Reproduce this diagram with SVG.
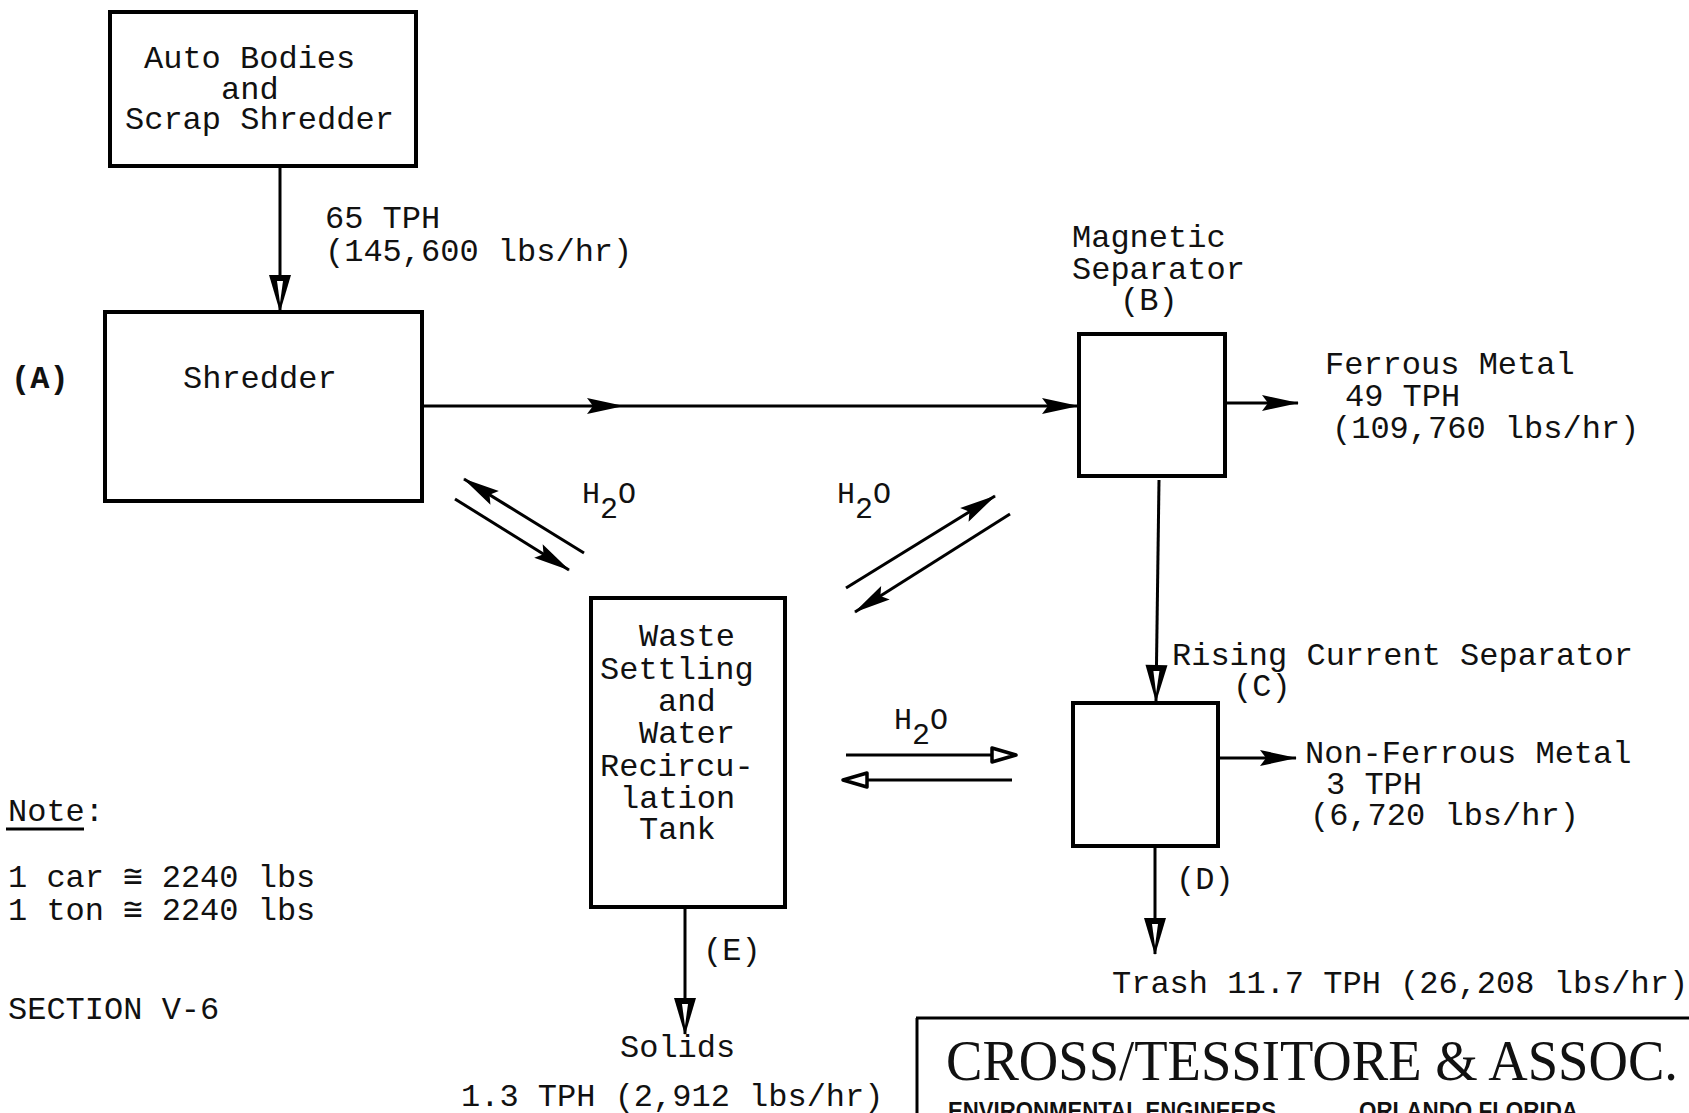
<svg xmlns="http://www.w3.org/2000/svg" width="1689" height="1113" viewBox="0 0 1689 1113">
<style>
  .box { fill: #fff; stroke: #000; stroke-width: 4; }
  .ln { fill: none; stroke: #000; stroke-width: 3; }
  .t { font-family: "Liberation Mono", "DejaVu Sans Mono", monospace; font-size: 32px; fill: #111; }
  .h { font-family: "Liberation Mono", "DejaVu Sans Mono", monospace; font-size: 30px; fill: #111; }
  .title { font-family: "Liberation Serif", "DejaVu Serif", serif; font-size: 57px; fill: #111; }
  .sub { font-family: "Liberation Sans Narrow", "Liberation Sans", "DejaVu Sans", sans-serif; font-size: 24px; font-weight: bold; fill: #111; }
</style>
<defs>
  <marker id="dart" markerUnits="userSpaceOnUse" markerWidth="44" markerHeight="24" viewBox="-40 -12 44 24" refX="0" refY="0" orient="auto">
    <path d="M1,0 L-36,-8 L-30,0 L-36,8 Z" fill="#000"/>
  </marker>
  <marker id="tri" markerUnits="userSpaceOnUse" markerWidth="44" markerHeight="28" viewBox="-40 -14 44 28" refX="0" refY="0" orient="auto">
    <path d="M1,0 L-36,-11 L-36,11 Z" fill="#000"/>
    <path d="M-8,0 L-30,-3 L-30,3 Z" fill="#fff"/>
  </marker>
  <marker id="open" markerUnits="userSpaceOnUse" markerWidth="34" markerHeight="22" viewBox="-30 -11 34 22" refX="0" refY="0" orient="auto">
    <path d="M0,0 L-24,-7 L-24,7 Z" fill="#fff" stroke="#000" stroke-width="3.5" stroke-linejoin="round"/>
  </marker>
</defs>
<rect width="1689" height="1113" fill="#fff"/>

<g id="connectors">
  <line class="ln" x1="280" y1="167" x2="280" y2="311" marker-end="url(#tri)"/>
  <path class="ln" d="M422,406 L623,406 L1078,406" marker-mid="url(#dart)" marker-end="url(#dart)"/>
  <line class="ln" x1="1225" y1="403" x2="1298" y2="403" marker-end="url(#dart)"/>
  <line class="ln" x1="1159" y1="480" x2="1156" y2="701" marker-end="url(#tri)"/>
  <line class="ln" x1="1218" y1="758" x2="1296" y2="758" marker-end="url(#dart)"/>
  <line class="ln" x1="1155" y1="846" x2="1155" y2="954" marker-end="url(#tri)"/>
  <line class="ln" x1="685" y1="907" x2="685" y2="1034" marker-end="url(#tri)"/>
  <line class="ln" x1="584" y1="553" x2="464" y2="479" marker-end="url(#dart)"/>
  <line class="ln" x1="455" y1="499" x2="569" y2="570" marker-end="url(#dart)"/>
  <line class="ln" x1="846" y1="588" x2="995" y2="496" marker-end="url(#dart)"/>
  <line class="ln" x1="1010" y1="514" x2="855" y2="612" marker-end="url(#dart)"/>
  <line class="ln" x1="846" y1="755" x2="1016" y2="755" marker-end="url(#open)"/>
  <line class="ln" x1="1012" y1="780" x2="843" y2="780" marker-end="url(#open)"/>
</g>

<g id="node-auto-bodies">
  <rect class="box" x="110" y="12" width="306" height="154"/>
  <text class="t" x="144" y="68">Auto Bodies</text>
  <text class="t" x="221" y="99">and</text>
  <text class="t" x="125" y="129">Scrap Shredder</text>
</g>

<g id="node-shredder">
  <rect class="box" x="105" y="312" width="317" height="189"/>
  <text class="t" x="183" y="388">Shredder</text>
  <text class="t" x="11" y="388" font-weight="bold">(A)</text>
</g>

<g id="label-feed">
  <text class="t" x="325" y="228">65 TPH</text>
  <text class="t" x="325" y="261">(145,600 lbs/hr)</text>
</g>

<g id="node-magnetic">
  <rect class="box" x="1079" y="334" width="146" height="142"/>
  <text class="t" x="1072" y="247">Magnetic</text>
  <text class="t" x="1072" y="279">Separator</text>
  <text class="t" x="1120" y="310">(B)</text>
</g>

<g id="label-ferrous">
  <text class="t" x="1325" y="374">Ferrous Metal</text>
  <text class="t" x="1345" y="406">49 TPH</text>
  <text class="t" x="1332" y="438">(109,760 lbs/hr)</text>
</g>

<g id="node-rising">
  <rect class="box" x="1073" y="703" width="145" height="143"/>
  <text class="t" x="1172" y="665">Rising Current Separator</text>
  <text class="t" x="1233" y="696">(C)</text>
</g>

<g id="label-nonferrous">
  <text class="t" x="1305" y="763">Non-Ferrous Metal</text>
  <text class="t" x="1326" y="794">3 TPH</text>
  <text class="t" x="1310" y="825">(6,720 lbs/hr)</text>
</g>

<g id="label-trash">
  <text class="t" x="1176" y="889">(D)</text>
  <text class="t" x="1112" y="993">Trash 11.7 TPH (26,208 lbs/hr)</text>
</g>

<g id="node-waste">
  <rect class="box" x="591" y="598" width="194" height="309"/>
  <text class="t" x="639" y="646">Waste</text>
  <text class="t" x="600" y="679">Settling</text>
  <text class="t" x="658" y="711">and</text>
  <text class="t" x="639" y="743">Water</text>
  <text class="t" x="600" y="776">Recircu-</text>
  <text class="t" x="620" y="808">lation</text>
  <text class="t" x="639" y="839">Tank</text>
</g>

<g id="label-solids">
  <text class="t" x="703" y="960">(E)</text>
  <text class="t" x="620" y="1057">Solids</text>
  <text class="t" x="461" y="1106">1.3 TPH (2,912 lbs/hr)</text>
</g>

<g id="labels-water">
  <text class="h" x="582" y="503">H<tspan dy="15">2</tspan><tspan dy="-15">O</tspan></text>
  <text class="h" x="837" y="503">H<tspan dy="15">2</tspan><tspan dy="-15">O</tspan></text>
  <text class="h" x="894" y="729">H<tspan dy="15">2</tspan><tspan dy="-15">O</tspan></text>
</g>

<g id="note">
  <text class="t" x="8" y="821">Note:</text>
  <line x1="6" y1="829" x2="84" y2="829" stroke="#000" stroke-width="3"/>
  <text class="t" x="8" y="887">1 car ≅ 2240 lbs</text>
  <text class="t" x="8" y="920">1 ton ≅ 2240 lbs</text>
  <text class="t" x="8" y="1019">SECTION V-6</text>
</g>

<g id="title-block">
  <line x1="917" y1="1018" x2="917" y2="1113" stroke="#000" stroke-width="3"/>
  <line x1="916" y1="1018" x2="1689" y2="1018" stroke="#000" stroke-width="3"/>
  <text class="title" x="946" y="1080" textLength="732" lengthAdjust="spacingAndGlyphs">CROSS/TESSITORE &amp; ASSOC.</text>
  <text class="sub" x="948" y="1119" textLength="328" lengthAdjust="spacingAndGlyphs">ENVIRONMENTAL ENGINEERS</text>
  <text class="sub" x="1359" y="1119" textLength="219" lengthAdjust="spacingAndGlyphs">ORLANDO FLORIDA</text>
</g>
</svg>
